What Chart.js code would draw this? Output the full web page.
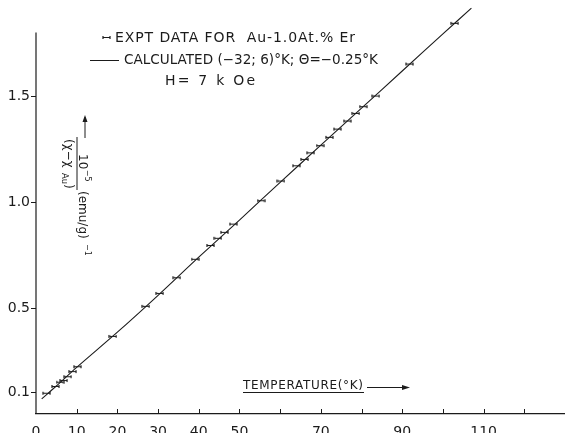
<!DOCTYPE html>
<html>
<head>
<meta charset="utf-8">
<script src="https://cdn.jsdelivr.net/npm/chart.js@4/dist/chart.umd.min.js"></script>
<style>
  html, body { margin: 0; padding: 0; background: #fff; }
  #wrap { width: 565px; height: 433px; position: relative; }
</style>
</head>
<body>
<div id="wrap"><canvas id="chart"></canvas></div>
<script>
// Measured inverse susceptibility of Au-1.0 at.% Er (H = 7 kOe)
const TEMP_EXPT = [2.6, 4.8, 5.9, 6.8, 7.8, 9.0, 10.2, 18.9, 27.0, 30.4, 34.6, 39.1, 42.9, 44.7, 46.3, 48.5,
  55.3, 60.2, 64.0, 66.0, 67.5, 69.8, 72.1, 74.1, 76.5, 78.6, 80.4, 83.5, 91.8, 102.9];
const CHI_INV_EXPT = [0.098, 0.130, 0.150, 0.158, 0.176, 0.200, 0.223, 0.366, 0.508, 0.569, 0.643, 0.730, 0.795, 0.829, 0.857, 0.896,
  1.006, 1.099, 1.171, 1.201, 1.232, 1.266, 1.305, 1.344, 1.382, 1.418, 1.450, 1.500, 1.651, 1.843];

// Calculated curve, crystal field (-32; 6) K, theta = -0.25 K
const TEMP_CALC = [1.4, 5, 10, 20, 30, 40, 50, 60, 70, 80, 90, 100, 107];
const CHI_INV_CALC = [0.071, 0.132, 0.220, 0.386, 0.560, 0.740, 0.915, 1.093, 1.268, 1.443, 1.618, 1.793, 1.915];

// Axis ticks
const X_TICKS = [0, 10, 20, 30, 40, 50, 60, 70, 80, 90, 100, 110, 120];
const X_TICK_LABELS = ['0', '10', '20', '30', '40', '50', '', '70', '', '90', '', '110', ''];
const Y_TICKS = [0.1, 0.5, 1.0, 1.5];
const Y_TICK_LABELS = ['0.1', '0.5', '1.0', '1.5'];
const Y_AXIS_TOP = 1.8;

const INK = '#1b1b1b';
const FONT = '"DejaVu Sans", "Liberation Sans", sans-serif';

// small horizontal error-bar glyph used as the point marker
function errorBarGlyph() {
  const c = document.createElement('canvas');
  c.width = 9; c.height = 5;
  const g = c.getContext('2d');
  g.strokeStyle = INK;
  g.lineWidth = 1.2;
  g.beginPath();
  g.moveTo(0.5, 2.5); g.lineTo(8.5, 2.5);
  g.moveTo(1, 1); g.lineTo(1, 4);
  g.moveTo(8, 1); g.lineTo(8, 4);
  g.stroke();
  return c;
}
const MARKER = errorBarGlyph();

const toPoints = (xs, ys) => xs.map((x, i) => ({ x: x, y: ys[i] }));

// draw text spread (letter spacing) or squeezed to a given width
function fitText(ctx, text, x, y, width) {
  ctx.save();
  ctx.letterSpacing = '0px';
  const w = ctx.measureText(text).width;
  if (w >= width) {
    ctx.fillText(text, x, y, width);
  } else {
    ctx.letterSpacing = ((width - w) / Math.max(text.length - 1, 1)).toFixed(2) + 'px';
    ctx.fillText(text, x, y);
  }
  ctx.restore();
}

const annotations = {
  id: 'annotations',
  afterDraw(chart) {
    const ctx = chart.ctx;
    const area = chart.chartArea;
    const xs = chart.scales.x, ys = chart.scales.y;
    ctx.save();
    ctx.strokeStyle = INK;
    ctx.fillStyle = INK;
    ctx.lineWidth = 1.2;

    // vertical axis line
    ctx.beginPath();
    ctx.moveTo(area.left, ys.getPixelForValue(Y_AXIS_TOP));
    ctx.lineTo(area.left, area.bottom);
    ctx.stroke();

    // inward tick marks on the temperature axis
    ctx.lineWidth = 1;
    ctx.beginPath();
    X_TICKS.forEach(v => {
      if (v === 0) return;
      const px = Math.round(xs.getPixelForValue(v)) + 0.5;
      ctx.moveTo(px, area.bottom);
      ctx.lineTo(px, area.bottom - 5);
    });
    ctx.stroke();

    // key
    ctx.textBaseline = 'middle';
    ctx.textAlign = 'left';
    ctx.font = '14px ' + FONT;
    ctx.drawImage(MARKER, 102, 35);
    fitText(ctx, 'EXPT DATA FOR  Au-1.0At.% Er', 115, 38, 240);
    ctx.lineWidth = 1;
    ctx.beginPath();
    ctx.moveTo(90, 60.5); ctx.lineTo(119, 60.5);
    ctx.stroke();
    fitText(ctx, 'CALCULATED (\u221232; 6)\u00B0K; \u0398=\u22120.25\u00B0K', 124, 60, 254);
    fitText(ctx, 'H= 7 k Oe', 165, 81, 90);

    // temperature axis caption
    ctx.font = '12px ' + FONT;
    fitText(ctx, 'TEMPERATURE(\u00B0K)', 243, 386, 120);
    ctx.beginPath();
    ctx.moveTo(243, 392.5); ctx.lineTo(364, 392.5);
    ctx.moveTo(367, 387.5); ctx.lineTo(408, 387.5);
    ctx.stroke();
    ctx.beginPath();
    ctx.moveTo(410, 387.5); ctx.lineTo(402, 385); ctx.lineTo(402, 390); ctx.closePath();
    ctx.fill();

    // susceptibility axis caption, set along the axis
    ctx.translate(77, 137);
    ctx.rotate(Math.PI / 2);
    ctx.lineWidth = 1;
    ctx.beginPath();
    ctx.moveTo(0, 0); ctx.lineTo(53, 0);
    ctx.stroke();
    ctx.textBaseline = 'alphabetic';
    const big = '12px ' + FONT, small = '8px ' + FONT;
    let u = 17;
    ctx.font = big; ctx.fillText('10', u, -2); u += ctx.measureText('10').width + 0.5;
    ctx.font = small; ctx.fillText('\u22125', u, -8);
    u = 54;
    ctx.font = big; ctx.fillText('(emu/g)', u, -2, 52); u += 53;
    ctx.font = small; ctx.fillText('\u22121', u, -8);
    ctx.font = big;
    u = 2;
    ctx.fillText('(\u03C7\u2212\u03C7', u, 12, 33); u += 34;
    ctx.font = '9px ' + FONT; ctx.fillText('Au', u, 15, 11); u += 11;
    ctx.font = big; ctx.fillText(')', u, 12);
    // arrow pointing up the axis
    ctx.beginPath();
    ctx.moveTo(-20, -8); ctx.lineTo(1, -8);
    ctx.stroke();
    ctx.beginPath();
    ctx.moveTo(-22, -8); ctx.lineTo(-15, -10.5); ctx.lineTo(-15, -5.5); ctx.closePath();
    ctx.fill();
    ctx.restore();
  }
};

new Chart(document.getElementById('chart'), {
  type: 'scatter',
  data: {
    datasets: [
      {
        label: 'Calculated',
        data: toPoints(TEMP_CALC, CHI_INV_CALC),
        showLine: true,
        borderColor: INK,
        borderWidth: 1.1,
        pointRadius: 0,
        tension: 0.3,
        order: 2
      },
      {
        label: 'Expt',
        data: toPoints(TEMP_EXPT, CHI_INV_EXPT),
        showLine: false,
        pointStyle: MARKER,
        pointRadius: 4,
        order: 1
      }
    ]
  },
  options: {
    responsive: true,
    maintainAspectRatio: false,
    animation: false,
    events: [],
    layout: { padding: 0, autoPadding: false },
    plugins: { legend: { display: false }, tooltip: { enabled: false } },
    scales: {
      x: {
        type: 'linear',
        min: 0,
        max: 130,
        afterBuildTicks: s => { s.ticks = X_TICKS.map(v => ({ value: v })); },
        afterFit: s => { s.height = 19; s.paddingLeft = 0; s.paddingRight = 0; },
        ticks: {
          autoSkip: false,
          maxRotation: 0,
          padding: 2,
          color: INK,
          font: { family: FONT, size: 14 },
          callback: (v, i) => X_TICK_LABELS[i]
        },
        grid: { display: false },
        border: { display: true, color: INK, width: 1.2 }
      },
      y: {
        type: 'linear',
        min: 0,
        max: 1.953,
        afterBuildTicks: s => { s.ticks = Y_TICKS.map(v => ({ value: v })); },
        afterFit: s => { s.width = 36; s.paddingTop = 0; s.paddingBottom = 0; },
        ticks: {
          padding: 1,
          color: INK,
          font: { family: FONT, size: 14 },
          callback: (v, i) => Y_TICK_LABELS[i]
        },
        grid: { drawOnChartArea: false, drawTicks: true, tickLength: 5, color: INK, lineWidth: 1 },
        border: { display: false }
      }
    }
  },
  plugins: [annotations]
});
</script>
</body>
</html>
